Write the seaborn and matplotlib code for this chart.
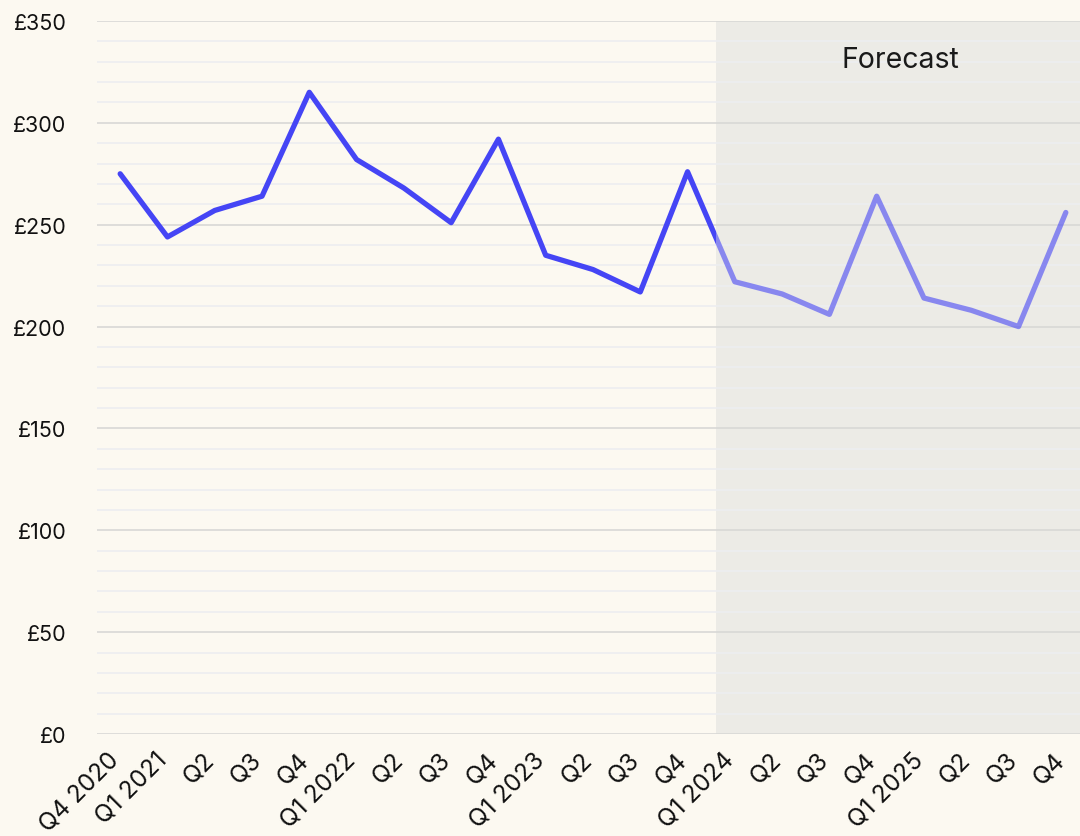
import matplotlib
matplotlib.use("Agg")
import matplotlib.pyplot as plt
from matplotlib.patches import Rectangle
from matplotlib.ticker import MultipleLocator, FuncFormatter
import numpy as np
import pandas as pd
import seaborn as sns

# Quarterly average spend (GBP), actuals followed by forecast
quarters = ["Q4 2020", "Q1 2021", "Q2", "Q3", "Q4",
            "Q1 2022", "Q2", "Q3", "Q4",
            "Q1 2023", "Q2", "Q3", "Q4",
            "Q1 2024", "Q2", "Q3", "Q4",
            "Q1 2025", "Q2", "Q3", "Q4"]
spend = [275, 244, 257, 264, 315,
         282, 268, 251, 292,
         235, 228, 217, 276,
         222, 216, 206, 264,
         214, 208, 200, 256]
forecast_start = 12.6
forecast_label = "Forecast"

BG = "#FCF9F1"
SHADE = "#ECEBE6"
LINE = "#4545F5"

sns.set_theme(style="white")
plt.rcParams["font.family"] = ["Inter", "DejaVu Sans"]

df = pd.DataFrame({"x": np.arange(len(quarters)), "spend": spend})

fig = plt.figure(figsize=(10.8, 8.37), dpi=100, facecolor=BG)
ax = fig.add_axes([97 / 1080, 1 - 735 / 837, 1 - 97 / 1080, (735 - 22) / 837])
ax.set_facecolor(BG)

ax.set_xlim(-0.49, 20.3)
ax.set_ylim(0, 350)

# Shaded forecast period
ax.axvspan(forecast_start, 20.3, color=SHADE, zorder=0, lw=0)

# Gridlines
ax.yaxis.set_major_locator(MultipleLocator(50))
ax.yaxis.set_minor_locator(MultipleLocator(10))
ax.grid(which="major", axis="y", color="#D8D8D6", lw=1.2, zorder=1)
ax.grid(which="minor", axis="y", color="#EDEEF0", lw=1.2, zorder=1)
ax.grid(which="major", axis="x", visible=False)
ax.set_axisbelow(True)

# Actual and forecast segments of the same series
sns.lineplot(data=df, x="x", y="spend", ax=ax, color=LINE, lw=3.8,
             solid_joinstyle="round", solid_capstyle="round", zorder=3)
sns.lineplot(data=df, x="x", y="spend", ax=ax, color=LINE, lw=3.8, alpha=0.6,
             solid_joinstyle="round", solid_capstyle="round", zorder=3)
lines = ax.get_lines()
clip_actual = Rectangle((-1, -10), forecast_start + 1, 400, transform=ax.transData)
clip_fore = Rectangle((forecast_start, -10), 10, 400, transform=ax.transData)
lines[0].set_clip_path(clip_actual)
lines[1].set_clip_path(clip_fore)

ax.text(16.5, 331, forecast_label, ha="center", va="center", fontsize=20.5,
        color="#1a1a1a", zorder=4)

ax.set_xticks(df["x"])
ax.set_xticklabels(quarters, rotation=45, ha="right", va="baseline",
                   rotation_mode="anchor")
ax.yaxis.set_major_formatter(FuncFormatter(lambda v, p: f"£{v:.0f}"))
ax.tick_params(axis="both", which="both", length=0, colors="#111111")
ax.tick_params(axis="y", pad=22, labelsize=15.5)
ax.tick_params(axis="x", pad=19, labelsize=17.5)
ax.set_xlabel("")
ax.set_ylabel("")
for s in ax.spines.values():
    s.set_visible(False)

fig.savefig("out.png", dpi=100, facecolor=BG)
